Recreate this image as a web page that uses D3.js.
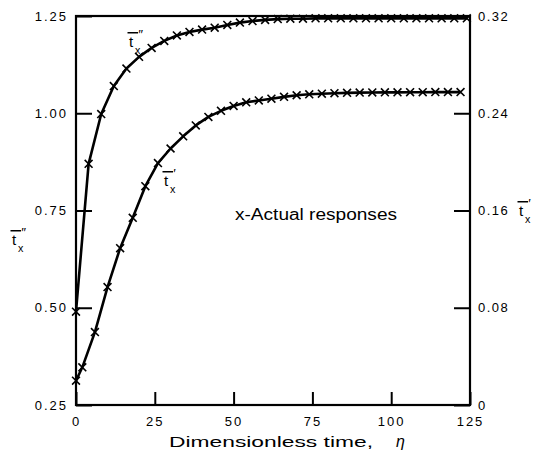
<!DOCTYPE html>
<html><head><meta charset="utf-8">
<script src="https://cdn.jsdelivr.net/npm/d3@7"></script>
<style>body{margin:0;background:#fff}svg{display:block}text{font-family:"Liberation Sans",Arial,sans-serif;fill:#000}</style>
</head><body><svg id="c" width="535" height="457"></svg>
<script>
// ---- data ----
const xTicks = [0, 25, 50, 75, 100, 125];
const leftTicks = [0.25, 0.50, 0.75, 1.00, 1.25];
const rightTicks = [0, 0.08, 0.16, 0.24, 0.32];
const etaUpper = [0,4,8,12,16,20,24,28,32,36,40,44,48,52,56,60,64,68,72,76,80,84,88,92,96,100,104,108,112,116,120,124];
const upperVals = [0.490,0.870,0.998,1.070,1.115,1.145,1.168,1.186,1.200,1.209,1.215,1.220,1.227,1.233,1.237,1.240,1.242,1.243,1.243,1.244,1.244,1.244,1.244,1.244,1.244,1.244,1.244,1.244,1.244,1.244,1.244,1.244];
const etaLower = [0,2,6,10,14,18,22,26,30,34,38,42,46,50,54,58,62,66,70,74,78,82,86,90,94,98,102,106,110,114,118,122];
const lowerVals = [0.020,0.031,0.060,0.097,0.129,0.154,0.180,0.199,0.211,0.221,0.230,0.237,0.242,0.246,0.249,0.2505,0.252,0.2535,0.2548,0.2556,0.2561,0.2565,0.2568,0.2570,0.2571,0.2572,0.2572,0.2573,0.2573,0.2574,0.2574,0.2574];
const axisTitle = "Dimensionless time,";
const etaSymbol = "η";
const legendText = "x-Actual responses";

// ---- layout ----
const W = 535, H = 457, m = {l: 76, t: 16, r: 65, b: 52};
const svg = d3.select("#c");
const x = d3.scaleLinear().domain([0, 125]).range([m.l, W - m.r]);
const yL = d3.scaleLinear().domain([0.25, 1.25]).range([H - m.b, m.t]);
const yR = d3.scaleLinear().domain([0, 0.32]).range([H - m.b, m.t]);
const FONT = '"Liberation Sans", Arial, sans-serif';

function styleAxis(g, ls) {
  g.select(".domain").remove();
  g.attr("font-family", FONT).attr("font-size", 13);
  g.selectAll(".tick line").attr("stroke", "#000").attr("stroke-width", 2);
  g.selectAll(".tick text").attr("fill", "#000").style("letter-spacing", ls + "px");
}

svg.append("g").attr("transform", `translate(${m.l},0)`)
  .call(d3.axisLeft(yL).tickValues(leftTicks).tickFormat(d3.format(".2f"))
    .tickSizeInner(-16).tickSizeOuter(0).tickPadding(8))
  .call(g => styleAxis(g, 2));

svg.append("g").attr("transform", `translate(${W - m.r},0)`)
  .call(d3.axisRight(yR).tickValues(rightTicks).tickFormat(d => d === 0 ? "0" : d3.format(".2f")(d))
    .tickSizeInner(-16).tickSizeOuter(0).tickPadding(8))
  .call(g => styleAxis(g, 1.5));

svg.append("g").attr("transform", `translate(0,${H - m.b})`)
  .call(d3.axisBottom(x).tickValues(xTicks).tickFormat(d3.format("d"))
    .tickSizeInner(-13).tickSizeOuter(0).tickPadding(12))
  .call(g => styleAxis(g, 2));

// frame
svg.append("rect").attr("x", m.l).attr("y", m.t)
  .attr("width", W - m.l - m.r).attr("height", H - m.t - m.b)
  .attr("fill", "none").attr("stroke", "#000").attr("stroke-width", 2.2);

// curves
const upper = etaUpper.map((e, i) => [x(e), yL(upperVals[i])]);
const lower = etaLower.map((e, i) => [x(e), yR(lowerVals[i])]);
const line = d3.line().curve(d3.curveLinear);
[upper, lower].forEach(pts => {
  svg.append("path").attr("d", line(pts)).attr("fill", "none")
    .attr("stroke", "#000").attr("stroke-width", 2.6).attr("stroke-linejoin", "round");
  svg.append("g").selectAll("path").data(pts).join("path")
    .attr("transform", d => `translate(${d[0]},${d[1]})`)
    .attr("d", d3.symbol().type(d3.symbolTimes).size(42))
    .attr("fill", "none").attr("stroke", "#000").attr("stroke-width", 1.6);
});

// t-bar labels
function tLabel(tx, ty, primes, fs) {
  const g = svg.append("g");
  g.append("text").attr("x", tx).attr("y", ty).attr("font-size", fs).text("t");
  g.append("line").attr("x1", tx - 1.5).attr("x2", tx + fs * 0.6)
    .attr("y1", ty - fs * 0.95).attr("y2", ty - fs * 0.95)
    .attr("stroke", "#000").attr("stroke-width", 1.5);
  g.append("text").attr("x", tx + fs * 0.62).attr("y", ty - fs * 0.55)
    .attr("font-size", fs * 0.9).text(primes);
  g.append("text").attr("x", tx + fs * 0.4).attr("y", ty + fs * 0.45)
    .attr("font-size", fs * 0.72).text("x");
}
tLabel(129, 47, "″", 15);
tLabel(164, 186, "′", 15);
tLabel(12, 245, "″", 15);
tLabel(519, 216, "′", 15);

// legend note
svg.append("text").attr("x", 235).attr("y", 220).attr("font-size", 16)
  .attr("textLength", 162).attr("lengthAdjust", "spacingAndGlyphs").text(legendText);

// x axis title
svg.append("text").attr("x", 169).attr("y", 447).attr("font-size", 15)
  .attr("textLength", 204).attr("lengthAdjust", "spacingAndGlyphs").text(axisTitle);
svg.append("text").attr("x", 396).attr("y", 447).attr("font-size", 16)
  .attr("font-style", "italic").attr("font-family", "DejaVu Serif").text(etaSymbol);
</script></body></html>
